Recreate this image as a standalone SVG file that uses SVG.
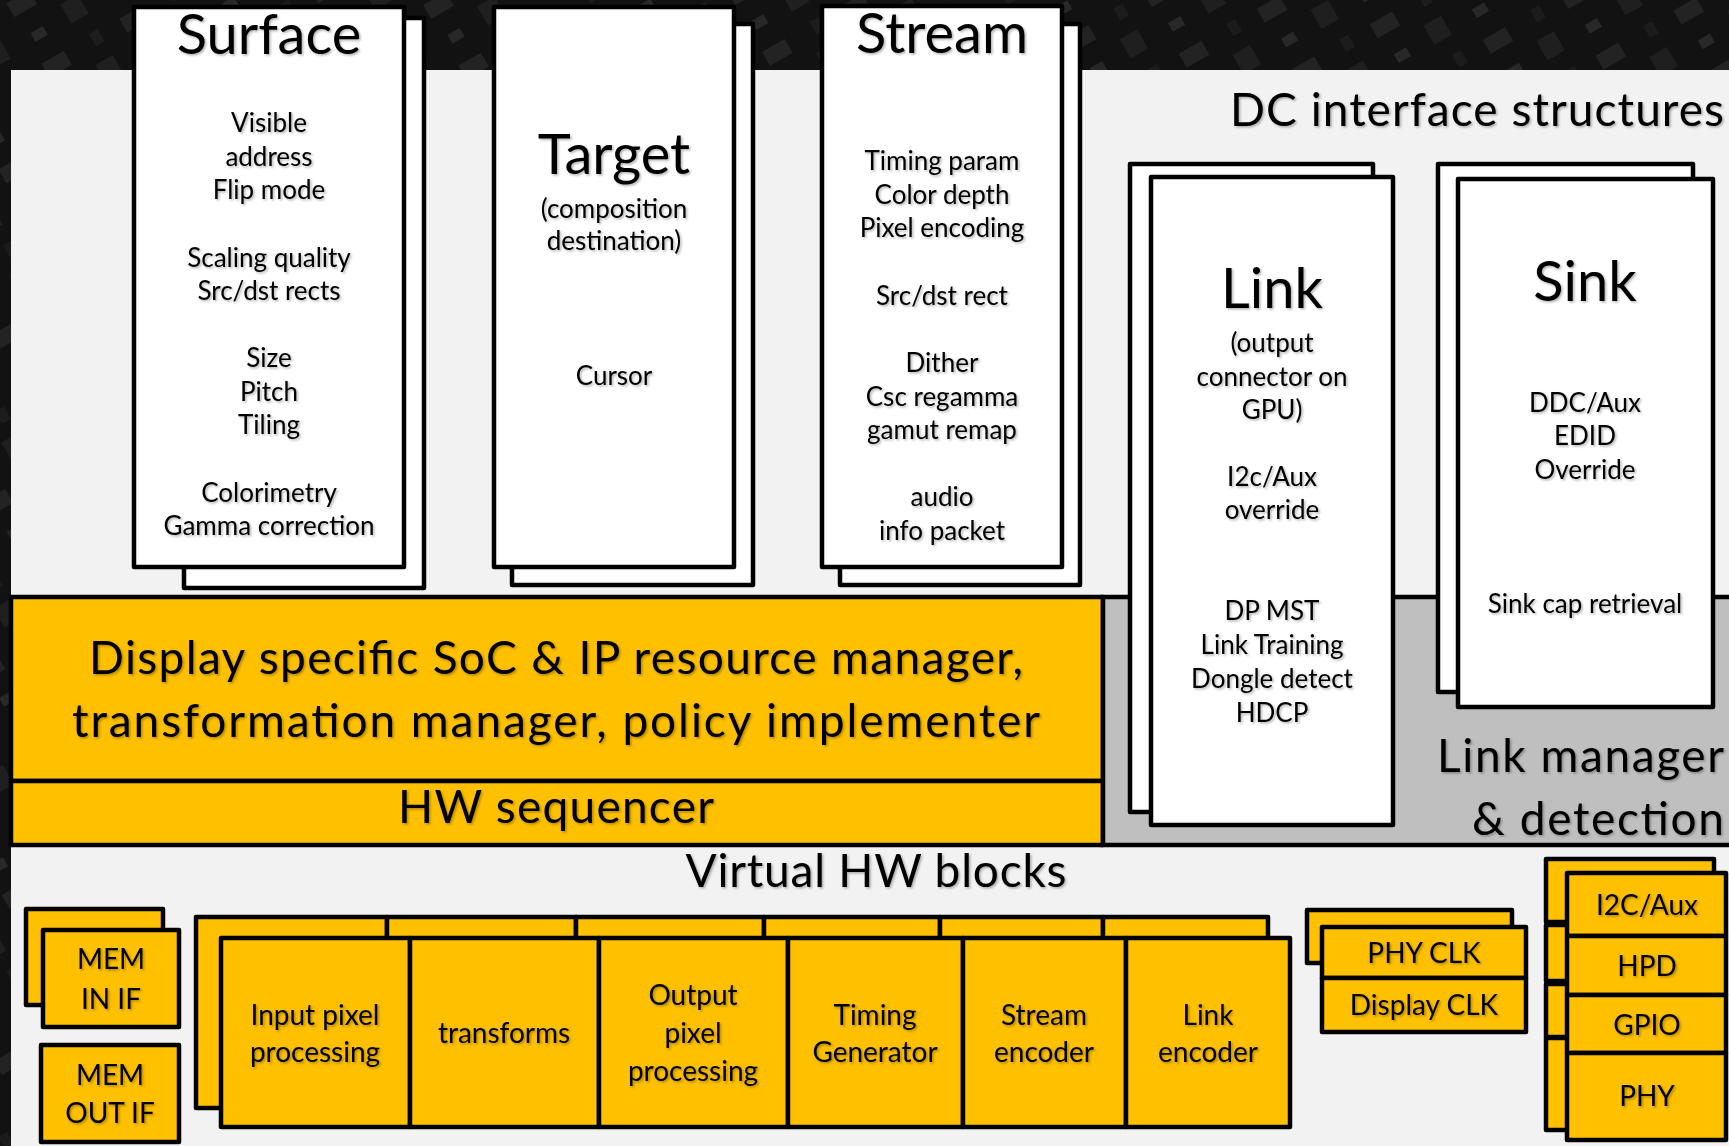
<svg xmlns="http://www.w3.org/2000/svg" width="1729" height="1146" viewBox="0 0 1729 1146">
<defs>
<pattern id="tex" width="90" height="70" patternUnits="userSpaceOnUse" patternTransform="rotate(-30)">
<rect width="90" height="70" fill="#121212"/>
<rect x="4" y="6" width="26" height="16" fill="#232323"/>
<rect x="50" y="34" width="20" height="22" fill="#1f1f1f"/>
<rect x="10" y="44" width="14" height="10" fill="#282828"/>
<rect x="60" y="4" width="10" height="14" fill="#1c1c1c"/>
</pattern>
<filter id="sh" x="-5%" y="-20%" width="110%" height="150%">
<feDropShadow dx="1.5" dy="1.5" stdDeviation="1" flood-color="#000" flood-opacity="0.3"/>
</filter>
</defs>
<style>
text{font-family:Lato,"Liberation Sans",sans-serif;fill:#000;text-anchor:middle;filter:url(#sh)}
.w{fill:#fff;stroke:#000;stroke-width:4.5;stroke-linejoin:round}
.y{fill:#ffc000;stroke:#000;stroke-width:4.5;stroke-linejoin:round}
.g{fill:#bfbfbf;stroke:#000;stroke-width:4.5}
.t{font-size:56px}
.b{font-size:26px}
.m{font-size:46px}
.s{font-size:28px}
.e{text-anchor:end}
</style>
<rect x="0" y="0" width="1729" height="1146" fill="url(#tex)"/>
<rect x="11" y="70" width="1730" height="1090" fill="#f2f2f2"/>

<g id="resource-manager">
<rect class="y" x="11" y="597" width="1092" height="184"/>
<text class="m" x="556" y="674" textLength="934">Display specific SoC &amp; IP resource manager,</text>
<text class="m" x="556" y="737" textLength="968">transformation manager, policy implementer</text>
</g>
<g id="hw-sequencer">
<rect class="y" x="11" y="781" width="1092" height="64"/>
<text class="m" x="556" y="823" textLength="316">HW sequencer</text>
</g>
<g id="link-manager">
<rect class="g" x="1103" y="597" width="640" height="248"/>
<text class="m e" x="1724" y="772" textLength="287">Link manager</text>
<text class="m e" x="1724" y="835" textLength="252">&amp; detection</text>
</g>

<text id="dc-title" class="m e" x="1724" y="126" textLength="494">DC interface structures</text>
<text id="vhw-title" class="m" x="876" y="887" textLength="381">Virtual HW blocks</text>

<g id="surface">
<rect class="w" x="184" y="18" width="240" height="570"/>
<rect class="w" x="134" y="7" width="270" height="560"/>
<text class="t" x="269" y="54">Surface</text>
<text class="b" x="269" y="132">Visible</text>
<text class="b" x="269" y="166">address</text>
<text class="b" x="269" y="199">Flip mode</text>
<text class="b" x="269" y="267">Scaling quality</text>
<text class="b" x="269" y="300">Src/dst rects</text>
<text class="b" x="269" y="367">Size</text>
<text class="b" x="269" y="401">Pitch</text>
<text class="b" x="269" y="434">Tiling</text>
<text class="b" x="269" y="502">Colorimetry</text>
<text class="b" x="269" y="535">Gamma correction</text>
</g>

<g id="target">
<rect class="w" x="512" y="24" width="241" height="561"/>
<rect class="w" x="494" y="7" width="240" height="560"/>
<text class="t" x="614" y="174">Target</text>
<text class="b" x="614" y="218">(composition</text>
<text class="b" x="614" y="250">destination)</text>
<text class="b" x="614" y="385">Cursor</text>
</g>

<g id="stream">
<rect class="w" x="840" y="24" width="240" height="561"/>
<rect class="w" x="822" y="6" width="240" height="561"/>
<text class="t" x="942" y="53">Stream</text>
<text class="b" x="942" y="170">Timing param</text>
<text class="b" x="942" y="204">Color depth</text>
<text class="b" x="942" y="237">Pixel encoding</text>
<text class="b" x="942" y="305">Src/dst rect</text>
<text class="b" x="942" y="372">Dither</text>
<text class="b" x="942" y="406">Csc regamma</text>
<text class="b" x="942" y="439">gamut remap</text>
<text class="b" x="942" y="506">audio</text>
<text class="b" x="942" y="540">info packet</text>
</g>

<g id="link">
<rect class="w" x="1130" y="164" width="243" height="648"/>
<rect class="w" x="1151" y="177" width="242" height="648"/>
<text class="t" x="1272" y="308">Link</text>
<text class="b" x="1272" y="352">(output</text>
<text class="b" x="1272" y="386">connector on</text>
<text class="b" x="1272" y="419">GPU)</text>
<text class="b" x="1272" y="486">I2c/Aux</text>
<text class="b" x="1272" y="519">override</text>
<text class="b" x="1272" y="620">DP MST</text>
<text class="b" x="1272" y="654">Link Training</text>
<text class="b" x="1272" y="688">Dongle detect</text>
<text class="b" x="1272" y="722">HDCP</text>
</g>

<g id="sink">
<rect class="w" x="1438" y="164" width="255" height="528"/>
<rect class="w" x="1458" y="179" width="255" height="528"/>
<text class="t" x="1585" y="301">Sink</text>
<text class="b" x="1585" y="412">DDC/Aux</text>
<text class="b" x="1585" y="445">EDID</text>
<text class="b" x="1585" y="479">Override</text>
<text class="b" x="1585" y="613">Sink cap retrieval</text>
</g>

<g id="mem-in-if">
<rect class="y" x="26" y="909" width="137" height="96"/>
<rect class="y" x="43" y="930" width="136" height="97"/>
<text class="s" x="111" y="969">MEM</text>
<text class="s" x="111" y="1009">IN IF</text>
</g>
<g id="mem-out-if">
<rect class="y" x="41" y="1045" width="138" height="97"/>
<text class="s" x="110" y="1085">MEM</text>
<text class="s" x="110" y="1123">OUT IF</text>
</g>

<g id="pipeline-back">
<rect class="y" x="196" y="917" width="191" height="191"/>
<rect class="y" x="387" y="917" width="189" height="191"/>
<rect class="y" x="576" y="917" width="188" height="191"/>
<rect class="y" x="764" y="917" width="176" height="191"/>
<rect class="y" x="940" y="917" width="163" height="191"/>
<rect class="y" x="1103" y="917" width="165" height="191"/>
</g>
<g id="input-pixel">
<rect class="y" x="221" y="938" width="189" height="189"/>
<text class="s" x="315" y="1025">Input pixel</text>
<text class="s" x="315" y="1062">processing</text>
</g>
<g id="transforms">
<rect class="y" x="410" y="938" width="189" height="189"/>
<text class="s" x="504" y="1043">transforms</text>
</g>
<g id="output-pixel">
<rect class="y" x="599" y="938" width="189" height="189"/>
<text class="s" x="693" y="1005">Output</text>
<text class="s" x="693" y="1043">pixel</text>
<text class="s" x="693" y="1081">processing</text>
</g>
<g id="timing-generator">
<rect class="y" x="788" y="938" width="175" height="189"/>
<text class="s" x="875" y="1025">Timing</text>
<text class="s" x="875" y="1062">Generator</text>
</g>
<g id="stream-encoder">
<rect class="y" x="963" y="938" width="163" height="189"/>
<text class="s" x="1044" y="1025">Stream</text>
<text class="s" x="1044" y="1062">encoder</text>
</g>
<g id="link-encoder">
<rect class="y" x="1126" y="938" width="164" height="189"/>
<text class="s" x="1208" y="1025">Link</text>
<text class="s" x="1208" y="1062">encoder</text>
</g>

<g id="clk">
<rect class="y" x="1307" y="910" width="205" height="53"/>
<rect class="y" x="1322" y="927" width="204" height="51"/>
<text class="s" x="1424" y="963">PHY CLK</text>
<rect class="y" x="1322" y="978" width="204" height="54"/>
<text class="s" x="1424" y="1015">Display CLK</text>
</g>

<g id="io-back">
<rect class="y" x="1546" y="859" width="168" height="63"/>
<rect class="y" x="1546" y="925" width="168" height="56"/>
<rect class="y" x="1546" y="984" width="168" height="53"/>
<rect class="y" x="1546" y="1038" width="168" height="92"/>
</g>
<g id="i2c-aux">
<rect class="y" x="1567" y="873" width="159" height="63"/>
<text class="s" x="1647" y="915">I2C/Aux</text>
</g>
<g id="hpd">
<rect class="y" x="1567" y="936" width="159" height="59"/>
<text class="s" x="1647" y="976">HPD</text>
</g>
<g id="gpio">
<rect class="y" x="1567" y="995" width="159" height="58"/>
<text class="s" x="1647" y="1035">GPIO</text>
</g>
<g id="phy">
<rect class="y" x="1567" y="1053" width="159" height="87"/>
<text class="s" x="1647" y="1106">PHY</text>
</g>

<g id="connectors"></g>
</svg>
